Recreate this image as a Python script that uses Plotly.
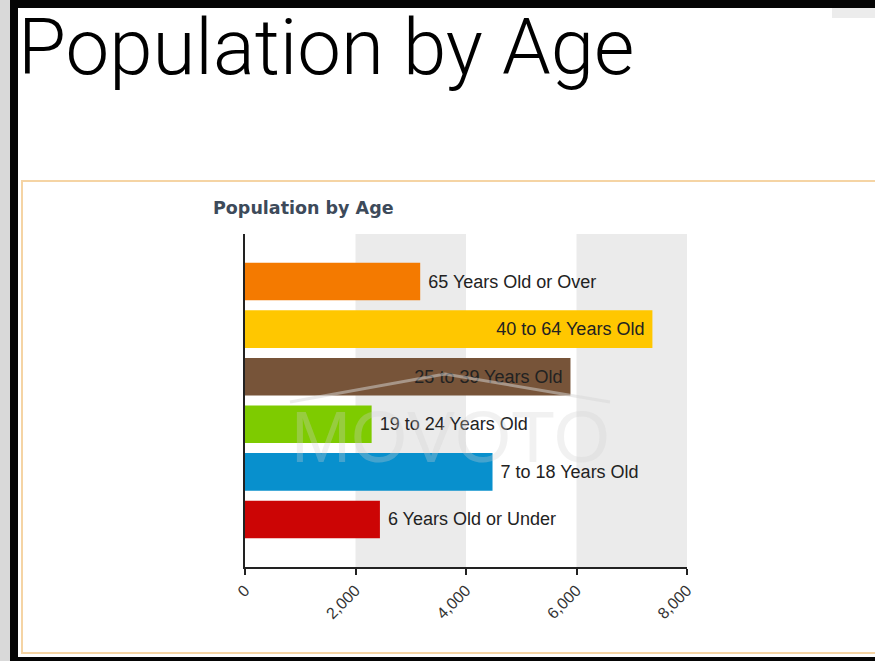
import plotly.graph_objects as go

# Data (bottom to top as plotted)
categories = ["6 Years Old or Under", "7 to 18 Years Old", "19 to 24 Years Old",
              "25 to 39 Years Old", "40 to 64 Years Old", "65 Years Old or Over"]
population = [2442, 4480, 2292, 5891, 7374, 3171]
bar_colors = ["#cc0505", "#0890cd", "#7ecb00", "#775439", "#ffc700", "#f47a00"]
label_inside = [False, False, False, True, True, False]
tick_values = [0, 2000, 4000, 6000, 8000]
tick_labels = ["0", "2,000", "4,000", "6,000", "8,000"]
band_ranges = [(2000, 4000), (6000, 8000)]

W, H = 875, 661
L, R, T, B = 245, 687, 234, 567  # plot area in px


def fx(px):
    return (px - L) / (R - L)


def fy(py):
    return (B - py) / (B - T)


NB = "\u00a0"
bar_text = [(c + NB) if ins else (NB + c) for c, ins in zip(categories, label_inside)]

fig = go.Figure()
fig.add_trace(go.Bar(
    x=population,
    y=list(range(len(categories))),
    orientation="h",
    marker=dict(color=bar_colors, line=dict(width=0)),
    text=bar_text,
    textposition=["inside" if v else "outside" for v in label_inside],
    insidetextanchor="end",
    textangle=0,
    constraintext="none",
    cliponaxis=False,
    textfont=dict(family="Liberation Sans", size=18, color="#222222"),
    insidetextfont=dict(family="Liberation Sans", size=18, color="#222222"),
    outsidetextfont=dict(family="Liberation Sans", size=18, color="#222222"),
    hoverinfo="skip",
))

shapes = []
# page decorations
shapes.append(dict(type="rect", xref="paper", yref="paper", x0=fx(0), x1=fx(10), y0=fy(0), y1=fy(H),
                   fillcolor="#d9d9d9", line=dict(width=0), layer="below"))
shapes.append(dict(type="rect", xref="paper", yref="paper", x0=fx(10), x1=fx(18), y0=fy(0), y1=fy(H),
                   fillcolor="#050505", line=dict(width=0), layer="below"))
shapes.append(dict(type="rect", xref="paper", yref="paper", x0=fx(10), x1=fx(W), y0=fy(0), y1=fy(8),
                   fillcolor="#050505", line=dict(width=0), layer="below"))
shapes.append(dict(type="rect", xref="paper", yref="paper", x0=fx(10), x1=fx(W), y0=fy(657), y1=fy(H),
                   fillcolor="#050505", line=dict(width=0), layer="below"))
shapes.append(dict(type="rect", xref="paper", yref="paper", x0=fx(832), x1=fx(W), y0=fy(8), y1=fy(18),
                   fillcolor="#ececec", line=dict(width=0), layer="below"))
shapes.append(dict(type="rect", xref="paper", yref="paper", x0=fx(22), x1=fx(890), y0=fy(181), y1=fy(653),
                   fillcolor="rgba(0,0,0,0)", line=dict(color="#f5d4a4", width=2), layer="below"))
# alternating bands
for a, b in band_ranges:
    shapes.append(dict(type="rect", xref="x", yref="paper", x0=a, x1=b, y0=0, y1=1,
                       fillcolor="#ebebeb", line=dict(width=0), layer="below"))
# watermark roof
shapes.append(dict(type="path", xref="paper", yref="paper",
                   path=f"M {fx(290)} {fy(402)} L {fx(445)} {fy(374)} L {fx(610)} {fy(402)}",
                   line=dict(color="rgba(215,215,215,0.5)", width=3), layer="above"))

annotations = [
    dict(text="Population by Age", xref="paper", yref="paper", x=fx(16), y=fy(47),
         xanchor="left", yanchor="middle", showarrow=False,
         font=dict(family="Roboto", size=78, color="#000000", weight=300)),
    dict(text="Population by Age", xref="paper", yref="paper", x=fx(211), y=fy(208),
         xanchor="left", yanchor="middle", showarrow=False,
         font=dict(family="DejaVu Sans", size=17.5, color="#3d4a5a", weight="bold")),
    dict(text="MOVOTO", xref="paper", yref="paper", x=fx(450), y=fy(437),
         xanchor="center", yanchor="middle", showarrow=False,
         font=dict(family="Liberation Sans", size=72, color="rgba(210,210,210,0.3)")),
]

fig.update_layout(
    width=W, height=H,
    margin=dict(l=L, r=W - R, t=T, b=H - B, pad=0),
    paper_bgcolor="#ffffff",
    plot_bgcolor="rgba(0,0,0,0)",
    showlegend=False,
    bargap=0.21,
    shapes=shapes,
    annotations=annotations,
    xaxis=dict(range=[0, 8000], tickvals=tick_values, ticktext=tick_labels,
               tickangle=-45, showgrid=False, zeroline=False,
               showline=True, linecolor="#222222", linewidth=1.5,
               ticks="outside", ticklen=6, tickcolor="#222222", tickwidth=1.5,
               tickfont=dict(family="Liberation Sans", size=16, color="#333333"),
               fixedrange=True),
    yaxis=dict(range=[-1, len(categories)], showticklabels=False, showgrid=False,
               zeroline=False, showline=True, linecolor="#222222", linewidth=1.5,
               ticks="", fixedrange=True),
)

fig.write_html("out.html",
               config={"displayModeBar": False},
               post_script="document.body.style.margin='0';document.body.style.overflow='hidden';")
